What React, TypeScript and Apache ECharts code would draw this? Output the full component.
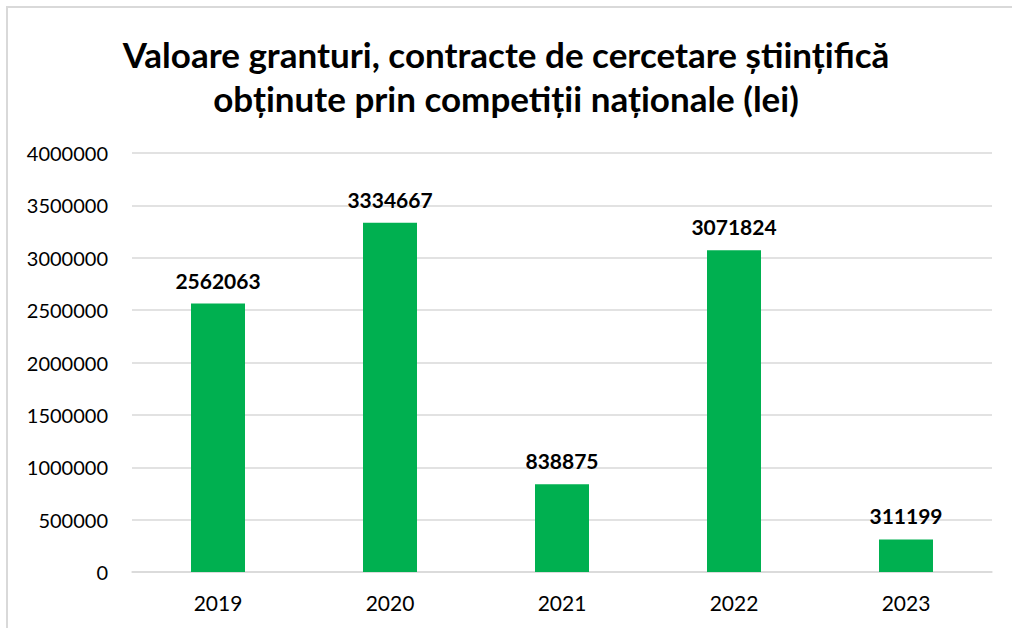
import React, { useEffect, useRef } from "react";
import * as echarts from "echarts";

const titleLines = [
  "Valoare granturi, contracte de cercetare științifică",
  "obținute prin competiții naționale (lei)",
];
const years = ["2019", "2020", "2021", "2022", "2023"];
const values = [2562063, 3334667, 838875, 3071824, 311199];
const yMax = 4000000;
const yStep = 500000;

const FONT = "Lato, 'Open Sans', sans-serif";

export default function App() {
  const ref = useRef<HTMLDivElement>(null);
  useEffect(() => {
    if (!ref.current) return;
    const chart = echarts.init(ref.current, undefined, { renderer: "svg" });
    chart.setOption({
      animation: false,
      backgroundColor: "#ffffff",
      textStyle: { fontFamily: FONT },
      title: {
        text: titleLines.join("\n"),
        left: "center",
        top: 27,
        padding: [5, 5, 5, 21],
        textStyle: {
          fontFamily: FONT,
          fontSize: 35,
          fontWeight: "bold",
          color: "#000000",
          lineHeight: 44,
        },
      },
      graphic: [
        {
          type: "rect",
          shape: { x: 7, y: 7, width: 1020, height: 640 },
          style: { fill: "none", stroke: "#d9d9d9", lineWidth: 2 },
          silent: true,
        },
      ],
      grid: { left: 132, right: 20, top: 153, bottom: 56 },
      xAxis: {
        type: "category",
        data: years,
        axisLine: { lineStyle: { color: "#d9d9d9", width: 1.5 } },
        axisTick: { show: false },
        axisLabel: { color: "#000000", fontSize: 21, margin: 20, fontFamily: FONT },
      },
      yAxis: {
        type: "value",
        min: 0,
        max: yMax,
        interval: yStep,
        axisLine: { show: false },
        axisTick: { show: false },
        splitLine: { lineStyle: { color: "#d9d9d9", width: 1.5 } },
        axisLabel: {
          color: "#000000",
          fontSize: 20,
          margin: 24,
          fontFamily: FONT,
          formatter: (v: number) => String(v),
        },
      },
      series: [
        {
          type: "bar",
          data: values,
          barWidth: 54,
          itemStyle: { color: "#00b050" },
          label: {
            show: true,
            position: "top",
            distance: 13,
            color: "#000000",
            fontWeight: "bold",
            fontSize: 21,
            fontFamily: FONT,
            formatter: (p: any) => String(p.value),
          },
        },
      ],
    });
    return () => chart.dispose();
  }, []);
  return (
    <div
      ref={ref}
      style={{ position: "absolute", left: 0, top: 0, width: 1012, height: 628 }}
    />
  );
}
